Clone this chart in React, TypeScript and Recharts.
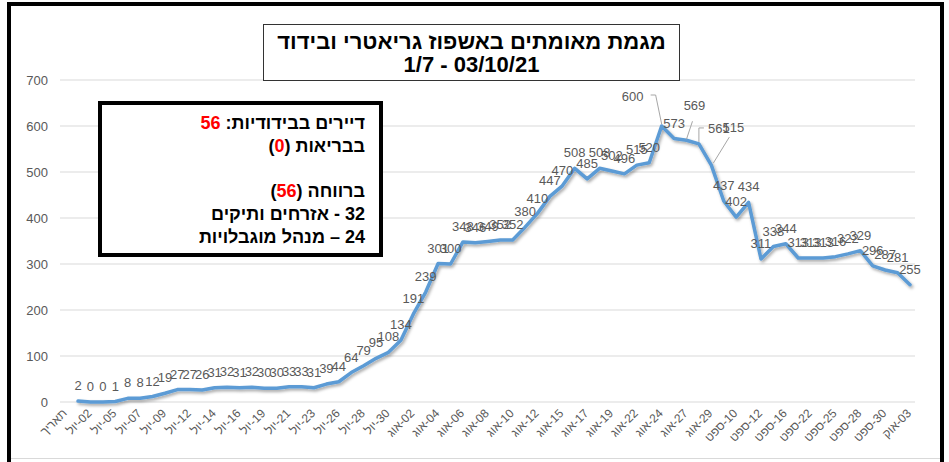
import React from 'react';
import { LineChart, Line, XAxis, YAxis, CartesianGrid, LabelList } from 'recharts';

const categories = [
  'תאריך',
  'יול-01', 'יול-02', 'יול-04', 'יול-05', 'יול-06', 'יול-07', 'יול-08', 'יול-09', 'יול-11', 'יול-12',
  'יול-13', 'יול-14', 'יול-15', 'יול-16', 'יול-18', 'יול-19', 'יול-20', 'יול-21', 'יול-22', 'יול-23',
  'יול-25', 'יול-26', 'יול-27', 'יול-28', 'יול-29', 'יול-30',
  'אוג-01', 'אוג-02', 'אוג-03', 'אוג-04', 'אוג-05', 'אוג-06', 'אוג-07', 'אוג-08', 'אוג-09', 'אוג-10',
  'אוג-11', 'אוג-12', 'אוג-13', 'אוג-15', 'אוג-16', 'אוג-17', 'אוג-18', 'אוג-19', 'אוג-20', 'אוג-22',
  'אוג-23', 'אוג-24', 'אוג-25', 'אוג-27', 'אוג-28', 'אוג-29',
  'ספט-05', 'ספט-10', 'ספט-11', 'ספט-12', 'ספט-14', 'ספט-16', 'ספט-19', 'ספט-22', 'ספט-23', 'ספט-25',
  'ספט-26', 'ספט-28', 'ספט-29', 'ספט-30',
  'אוק-01', 'אוק-03',
];

const values: (number | null)[] = [
  null,
  2, 0, 0, 1, 8, 8, 12, 19, 27, 27,
  26, 31, 32, 31, 32, 30, 30, 33, 33, 31,
  39, 44, 64, 79, 95, 108, 134, 191, 239, 301,
  300, 348, 346, 349, 352, 352, 380, 410, 447, 470,
  508, 485, 508, 502, 496, 515, 520, 600, 573, 569,
  561, 515, 437, 402, 434, 311, 338, 344, 313, 313,
  313, 316, 322, 329, 296, 287, 281, 255,
];

const yTicks = [0, 100, 200, 300, 400, 500, 600, 700];

const data = categories.map((c, i) => ({ date: c, v: values[i] }));

// callout labels (offsets relative to the point, in px) with leader lines
const callouts: Record<number, { dx: number; dy: number; leader: number[][] }> = {
  48: { dx: -29, dy: -30, leader: [[-11, -31], [-6, -31], [0, -2]] },
  50: { dx: 8, dy: -35, leader: [[6, -19], [0, -1]] },
  51: { dx: 20, dy: -16, leader: [[0, -2], [0, -16], [5, -16]] },
  52: { dx: 22, dy: -38, leader: [[18, -28], [2, -2]] },
};

const GRAY = '#595959';
const FONT = '"Liberation Sans", Arial, sans-serif';
const LRM = '\u200E';

const renderLabel = (props: any) => {
  const { x, y, value, index } = props;
  if (value == null || x == null || y == null) return null;
  const c = callouts[index];
  if (c) {
    const pts = c.leader.map((p) => `${x + p[0]},${y + p[1]}`).join(' ');
    return (
      <g>
        <polyline points={pts} fill="none" stroke="#a6a6a6" strokeWidth={1} />
        <text x={x + c.dx} y={y + c.dy + 4.6} textAnchor="middle" fontSize={13} fill={GRAY} fontFamily={FONT}>
          {value}
        </text>
      </g>
    );
  }
  return (
    <text x={x} y={y - 15.5 + 4.6} textAnchor="middle" fontSize={13} fill={GRAY} fontFamily={FONT}>
      {value}
    </text>
  );
};

const XTick = (props: any) => {
  const { x, payload } = props;
  const ax = x + 2;
  const ay = 414;
  const label = LRM + String(payload.value).replace('-', LRM + '-');
  return (
    <text
      x={ax}
      y={ay}
      transform={`rotate(-45 ${ax} ${ay})`}
      textAnchor="end"
      direction="ltr"
      fontSize={12}
      fill={GRAY}
      fontFamily={FONT}
    >
      {label}
    </text>
  );
};

export default function App() {
  return (
    <div
      style={{
        position: 'absolute',
        left: 0,
        top: 0,
        width: 949,
        height: 462,
        background: '#ffffff',
        overflow: 'hidden',
        fontFamily: FONT,
      }}
    >
      <div style={{ position: 'absolute', left: 0, top: 0 }}>
        <LineChart width={949} height={462} data={data} margin={{ top: 80, right: 34, bottom: 0, left: 0 }}>
          <defs>
            <filter id="lineShadow" x="-5%" y="-5%" width="110%" height="120%">
              <feDropShadow dx="1.5" dy="2" stdDeviation="1.5" floodColor="#000" floodOpacity="0.35" />
            </filter>
          </defs>
          <CartesianGrid vertical={false} stroke="#d9d9d9" strokeWidth={1} />
          <XAxis
            dataKey="date"
            interval={1}
            tick={<XTick />}
            tickLine={false}
            axisLine={false}
            height={60}
            tickSize={0}
            padding={{ left: 5.6, right: 5 }}
          />
          <YAxis
            domain={[0, 700]}
            ticks={yTicks}
            width={60}
            axisLine={false}
            tickLine={false}
            tickSize={0}
            tickMargin={12}
            tick={{ fill: GRAY, fontSize: 13, fontFamily: FONT }}
          />
          <Line
            type="linear"
            dataKey="v"
            stroke="#5b9bd5"
            strokeWidth={3.5}
            strokeLinecap="round"
            strokeLinejoin="round"
            dot={false}
            activeDot={false}
            isAnimationActive={false}
            filter="url(#lineShadow)"
          >
            <LabelList dataKey="v" content={renderLabel} />
          </Line>
        </LineChart>
      </div>

      {/* outer frame */}
      <div
        style={{
          position: 'absolute',
          left: 7,
          top: 2,
          width: 937,
          height: 480,
          border: '4px solid #000',
          boxSizing: 'border-box',
          pointerEvents: 'none',
        }}
      />
      <div style={{ position: 'absolute', left: 11, top: 458, width: 929, height: 1, background: '#d9d9d9' }} />

      {/* title box */}
      <div
        style={{
          position: 'absolute',
          left: 263,
          top: 24,
          width: 417,
          height: 57,
          border: '1.5px solid #333',
          boxSizing: 'border-box',
          background: '#fff',
          textAlign: 'center',
          fontWeight: 'bold',
          fontSize: 22,
          lineHeight: '23px',
          paddingTop: 5,
          color: '#000',
        }}
      >
        <div dir="rtl">מגמת מאומתים באשפוז גריאטרי ובידוד</div>
        <div dir="ltr">1/7 - 03/10/21</div>
      </div>

      {/* info box */}
      <div
        dir="rtl"
        style={{
          position: 'absolute',
          left: 98,
          top: 101,
          width: 285,
          height: 156,
          border: '4px solid #000',
          boxSizing: 'border-box',
          background: '#fff',
          textAlign: 'right',
          fontWeight: 'bold',
          fontSize: 18,
          lineHeight: '22.8px',
          paddingTop: 7,
          paddingRight: 14,
          color: '#000',
        }}
      >
        <div>
          דיירים בבידודיות: <span style={{ color: '#ff0000' }}>56</span>
        </div>
        <div>
          בבריאות (<span style={{ color: '#ff0000' }}>0</span>)
        </div>
        <div>&nbsp;</div>
        <div>
          ברווחה (<span style={{ color: '#ff0000' }}>56</span>)
        </div>
        <div>32 - אזרחים ותיקים</div>
        <div>24 – מנהל מוגבלויות</div>
      </div>
    </div>
  );
}
